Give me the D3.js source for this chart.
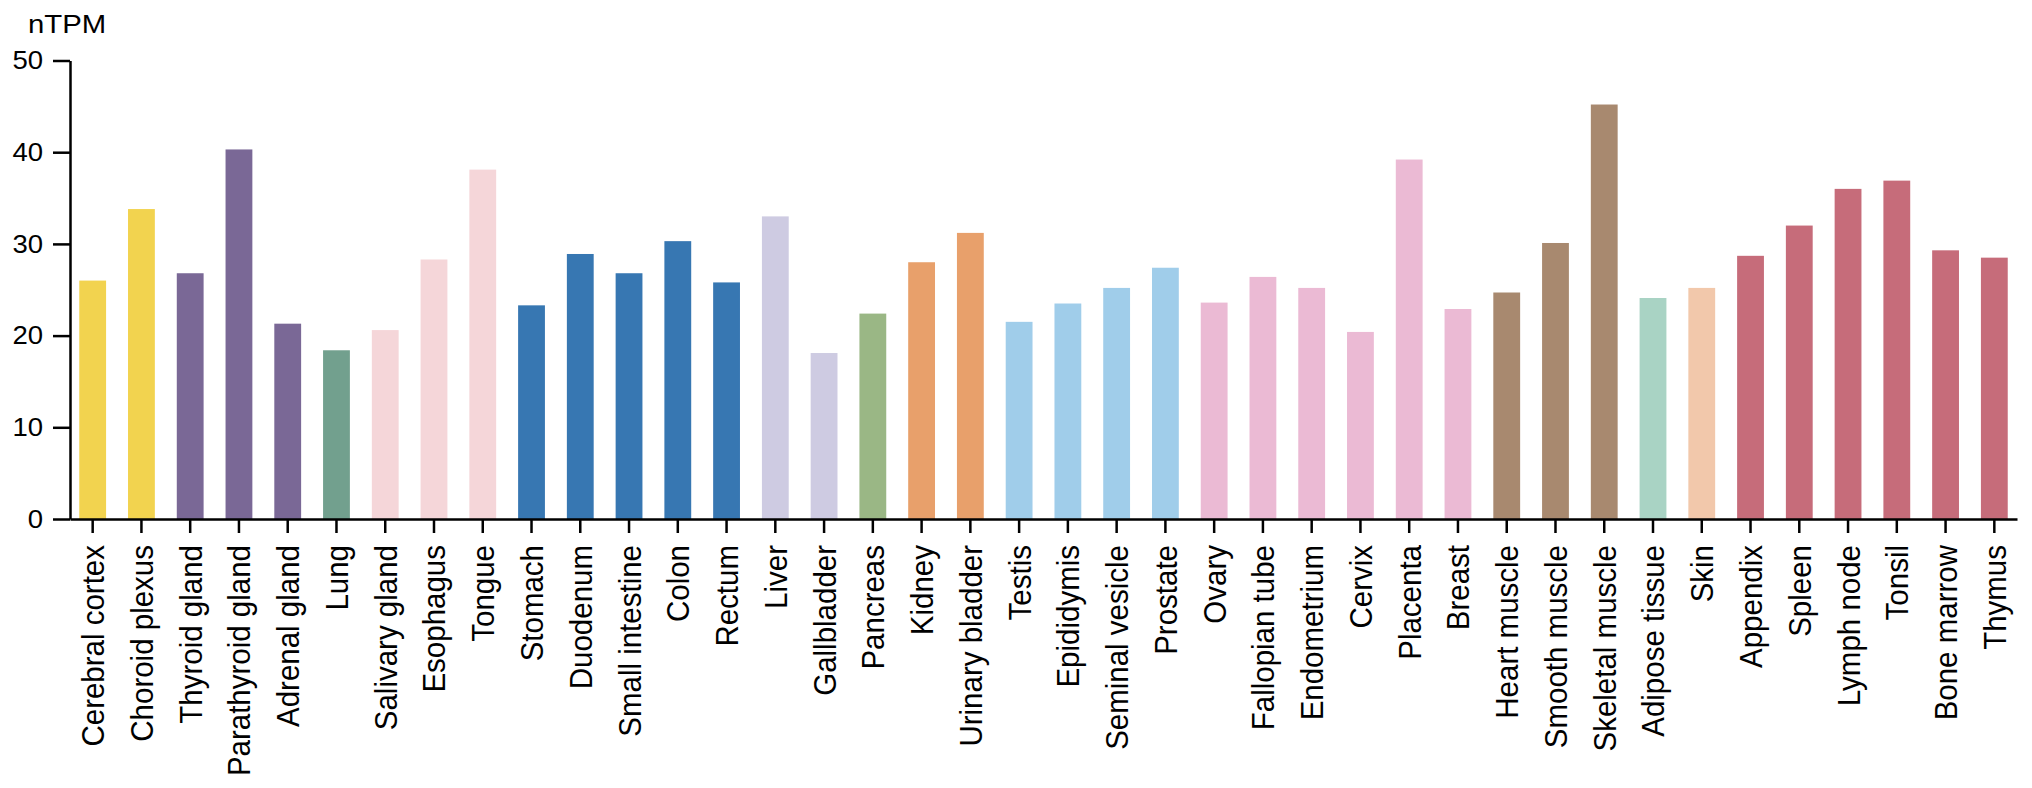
<!DOCTYPE html>
<html>
<head>
<meta charset="utf-8">
<script src="https://cdn.jsdelivr.net/npm/d3@7"></script>
<style>
  html, body { margin: 0; padding: 0; background: #fff; }
  svg { display: block; }
  text { font-family: "Liberation Sans", Arial, Helvetica, sans-serif; fill: #000; }
</style>
</head>
<body>
<svg id="chart" width="2032" height="788"></svg>
<script>
const tissues = ["Cerebral cortex","Choroid plexus","Thyroid gland","Parathyroid gland","Adrenal gland","Lung","Salivary gland","Esophagus","Tongue","Stomach","Duodenum","Small intestine","Colon","Rectum","Liver","Gallbladder","Pancreas","Kidney","Urinary bladder","Testis","Epididymis","Seminal vesicle","Prostate","Ovary","Fallopian tube","Endometrium","Cervix","Placenta","Breast","Heart muscle","Smooth muscle","Skeletal muscle","Adipose tissue","Skin","Appendix","Spleen","Lymph node","Tonsil","Bone marrow","Thymus"];
const nTPM = [26.0,33.8,26.8,40.3,21.3,18.4,20.6,28.3,38.1,23.3,28.9,26.8,30.3,25.8,33.0,18.1,22.4,28.0,31.2,21.5,23.5,25.2,27.4,23.6,26.4,25.2,20.4,39.2,22.9,24.7,30.1,45.2,24.1,25.2,28.7,32.0,36.0,36.9,29.3,28.5];
const groups = ["brain","brain","endocrine","endocrine","endocrine","lung","prox","prox","prox","gi","gi","gi","gi","gi","liver","liver","pancreas","kidney","kidney","male","male","male","male","female","female","female","female","female","female","muscle","muscle","muscle","adipose","skin","lymphoid","lymphoid","lymphoid","lymphoid","lymphoid","lymphoid"];
const groupNames = ["brain","endocrine","lung","prox","gi","liver","pancreas","kidney","male","female","muscle","adipose","skin","lymphoid"];
const groupColors = ["#f2d34f","#7a6896","#72a08e","#f5d6d9","#3777b2","#cecbe2","#9ab785","#e8a06b","#a0cdea","#ebbad4","#a8896f","#a9d3c4","#f2c8ab","#c66c7a"];
const yTicks = [0,10,20,30,40,50];
const yLabel = "nTPM";

const svg = d3.select("#chart");
const x = d3.scaleBand().domain(tissues).range([70, 2017]).paddingInner(0.45).paddingOuter(0.19);
const y = d3.scaleLinear().domain([0, 50]).range([519, 60.5]);
const color = d3.scaleOrdinal().domain(groupNames).range(groupColors);

const data = tissues.map((t, i) => ({t, v: nTPM[i], g: groups[i]}));

svg.append("g").selectAll("rect").data(data).join("rect")
  .attr("x", d => x(d.t))
  .attr("width", x.bandwidth())
  .attr("y", d => y(d.v))
  .attr("height", d => y(0) - y(d.v))
  .attr("fill", d => color(d.g));

const yAxis = svg.append("g").attr("transform", "translate(70,0)")
  .call(d3.axisLeft(y).tickValues(yTicks).tickSize(17).tickSizeOuter(0).tickPadding(10));
yAxis.selectAll("text")
  .style("font-size", "25.5px")
  .attr("x", 0)
  .attr("transform", "translate(-27,0) scale(1.08,1)");

const xAxis = svg.append("g").attr("transform", "translate(0,519)")
  .call(d3.axisBottom(x).tickSize(14).tickSizeOuter(0).tickPadding(0));
xAxis.selectAll("text")
  .style("font-size", "29.5px")
  .attr("text-anchor", "end")
  .attr("transform", "translate(0,26) scale(1.08,1) rotate(-90)")
  .attr("x", 0)
  .attr("y", 0)
  .attr("dy", "0.36em");

svg.selectAll(".domain, .tick line").attr("stroke", "#000").attr("stroke-width", 2.5);

svg.append("text")
  .attr("transform", "translate(28,33) scale(1.15,1)")
  .style("font-size", "25.5px")
  .text(yLabel);
</script>
</body>
</html>
